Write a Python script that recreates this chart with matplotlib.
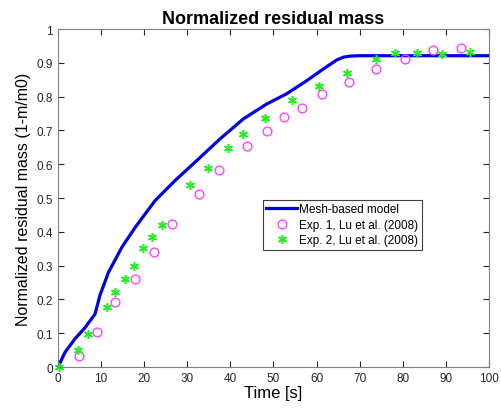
import numpy as np
import matplotlib.pyplot as plt

plt.rcParams['font.family'] = ['Liberation Sans', 'DejaVu Sans']

# Mesh-based model curve
model_t = [0, 1.6, 3.9, 6.3, 8.6, 9.7, 11.7, 14.8, 17.9, 22.5, 27.1, 32.8,
           37.6, 43.0, 48.4, 53.0, 57.7, 61.6, 64.6, 66.3, 68.0, 70.0, 100]
model_v = [0, 0.043, 0.083, 0.117, 0.157, 0.211, 0.28, 0.354, 0.413, 0.492, 0.551, 0.618,
           0.675, 0.734, 0.778, 0.808, 0.847, 0.882, 0.908, 0.917, 0.920, 0.921, 0.921]

# Exp. 1, Lu et al. (2008)
exp1_t = [4.9, 9.0, 13.2, 17.9, 22.3, 26.4, 32.7, 37.4, 43.8, 48.4, 52.4, 56.7,
          61.3, 67.6, 73.9, 80.5, 86.9, 93.6]
exp1_v = [0.033, 0.104, 0.191, 0.26, 0.34, 0.422, 0.513, 0.583, 0.653, 0.698, 0.739, 0.766,
          0.807, 0.844, 0.882, 0.910, 0.938, 0.944]

# Exp. 2, Lu et al. (2008)
exp2_t = [0.2, 4.6, 6.9, 11.3, 13.3, 15.5, 17.6, 19.8, 21.9, 24.1, 30.6, 34.7,
          39.5, 43.0, 48.0, 54.3, 60.6, 67.0, 73.7, 78.3, 83.2, 89.2, 95.6]
exp2_v = [0.0, 0.049, 0.098, 0.178, 0.222, 0.26, 0.298, 0.352, 0.384, 0.42, 0.538, 0.589,
          0.649, 0.69, 0.738, 0.79, 0.832, 0.871, 0.911, 0.93, 0.93, 0.927, 0.933]

fig = plt.figure(figsize=(5.01, 4.14), dpi=100)
ax = fig.add_axes([0.1158, 0.111, 0.8602, 0.8165])

ax.plot(model_t, model_v, color='#0000e0', lw=2.3, label='Mesh-based model')
ax.plot(exp1_t, exp1_v, 'o', mfc='none', mec='#ff44ff', ms=6.3, mew=1.0,
        label='Exp. 1, Lu et al. (2008)')
ax.plot(exp2_t, exp2_v, marker=(6, 2, 0), ls='none', color='#22ee22', ms=6.5, mew=1.1,
        label='Exp. 2, Lu et al. (2008)', clip_on=False)

ax.set_xlim(0, 100)
ax.set_ylim(0, 1)
ax.set_xticks(np.arange(0, 101, 10))
ax.set_yticks(np.arange(0, 1.01, 0.1))
ax.set_yticklabels(['0', '0.1', '0.2', '0.3', '0.4', '0.5', '0.6', '0.7', '0.8', '0.9', '1'])
ax.tick_params(direction='in', top=True, right=True, length=4, labelsize=8.5, colors='#262626')
for s in ax.spines.values():
    s.set_color('#808080')
    s.set_linewidth(0.8)

ax.set_xlabel('Time [s]', fontsize=12, labelpad=1)
ax.set_ylabel('Normalized residual mass (1-m/m0)', fontsize=11.5, labelpad=4)
ax.set_title('Normalized residual mass', fontsize=13, fontweight='bold', pad=4)

leg = ax.legend(loc='upper left', bbox_to_anchor=(0.475, 0.495), fontsize=8.5,
                fancybox=False, edgecolor='#404040', framealpha=1,
                handlelength=2.6, handletextpad=0.2, borderpad=0.3, labelspacing=0.3,
                borderaxespad=0)
leg.get_frame().set_linewidth(0.8)

fig.savefig('out.png', dpi=100)
